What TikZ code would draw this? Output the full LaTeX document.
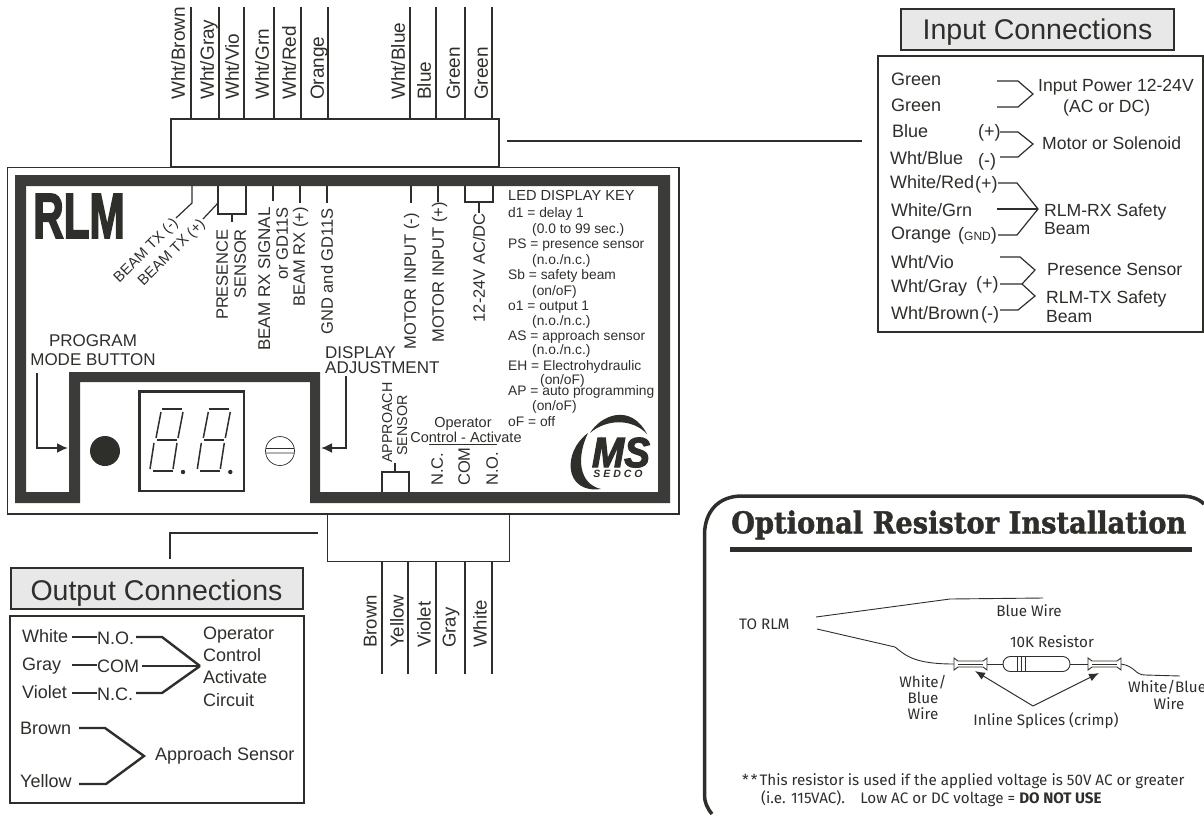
\documentclass[tikz,border=0pt]{standalone}
\usepackage{fontspec}
\usepackage{tikz}
\usetikzlibrary{arrows.meta}
\setmainfont{Liberation Sans}
\newfontfamily\panelfont{Fira Sans}
\newfontfamily\slabfont[FakeBold=1.5]{DejaVu Serif}
\newfontfamily\heavyfont[FakeBold=3]{Liberation Sans}
\newcommand{\fs}[1]{\fontsize{#1}{#1}\selectfont}
\definecolor{ink}{HTML}{2E2E2B}
\definecolor{band}{HTML}{3B3B39}
\definecolor{titlegray}{HTML}{E8E8E8}
\tikzset{
	sz/.style={font=\fs{#1},text height={.72*#1pt},text depth=0pt},
	lbl/.style={inner sep=0pt,text=ink,sz=18},
	wlbl/.style={lbl,anchor=west},
	vlbl/.style={lbl,rotate=90,anchor=west,sz=19},
	pin/.style={lbl,rotate=90,anchor=east,sz=16.5},
	key/.style={wlbl,sz=13.8},
	plbl/.style={lbl,font=\panelfont\fs{15.2},text height=10.6pt},
	wire/.style={draw=ink,line width=1.2pt},
	thin wire/.style={draw=ink,line width=.9pt},
	bus/.style={draw=ink,line width=2.4pt},
	box/.style={draw=ink,line width=2pt,fill=white,inner sep=0pt},
	titlebox/.style={draw=ink,line width=2pt,fill=titlegray,inner sep=0pt,text=ink,sz=28.5},
	arrow/.style={draw=ink,line width=1.8pt,-{Latex[length=11pt,width=10pt]}},
	tiny arrow/.style={draw=ink,line width=1pt,-{Latex[length=10pt,width=8pt]}}
}
\begin{document}
\begin{tikzpicture}[x=1pt,y=-1pt]
	\useasboundingbox (0,0) rectangle (1204,814);
	% top harness
	\node [draw=ink,line width=1.2pt,minimum width=328,minimum height=48,inner sep=0pt] (inbox) at (335,143) {};
	\foreach \i/\x/\lx/\name in {1/191/178/Wht\slash Brown,2/219/207/Wht\slash Gray,3/244/232/Wht\slash Vio,4/274/262/Wht\slash Grn,5/301/289/Wht\slash Red,6/328/317/Orange,7/410/398/Wht\slash Blue,8/436/424/Blue,9/465/453/Green,10/492/481/Green}{
		\coordinate (top\i) at (\x,7);
		\draw [wire] (top\i) -- (top\i |- inbox.north);
		\node [vlbl] (toplbl\i) at (\lx,100) {\name};
	}
	\coordinate (inleft) at (507,141);
	\coordinate (inright) at (862,141);
	\draw [wire] (inleft) -- (inright);
	% main housing
	\draw [draw=ink,line width=1.6pt] (7.5,167.5) rectangle (679,514);
	\fill [band,even odd rule] (15,175) -- (670,175) -- (670,503) -- (310,503) -- (310,382) -- (80,382) -- (80,503) -- (15,503) -- cycle
		(26,186) -- (658,186) -- (658,492) -- (320,492) -- (320,372) -- (69,372) -- (69,492) -- (26,492) -- cycle;
	\node [inner sep=0pt,text=ink,font=\heavyfont\fs{64}\bfseries] (rlm) at (79,215) {\scalebox{.66}[1]{\rule{0pt}{46pt}RLM}};
	% terminals along the top
	\draw [wire] (192,186) -- (192,203) -- (176,218);
	\draw [wire] (218,186) -- (218,203) -- (203,219);
	\node [lbl,sz=14.8,rotate=45,anchor=east] (txminus) at (175,220) {BEAM TX (-)};
	\node [lbl,sz=14.8,rotate=45,anchor=east] (txplus) at (202,221) {BEAM TX (+)};
	\draw [wire] (218,186) -- (218,214) -- (246,214) -- (246,186) (232,214) -- (232,222);
	\node [pin] (pres) at (222,229) {PRESENCE};
	\node [pin] (sens) at (240,229) {SENSOR};
	\draw [wire] (273,186) -- (273,201);
	\node [pin,sz=17] (rxsig) at (264,207) {BEAM RX SIGNAL};
	\node [pin] (gd) at (282,207) {or GD11S};
	\draw [wire] (300,186) -- (300,203);
	\node [pin] (rxplus) at (299,207) {BEAM RX (+)};
	\draw [wire] (327,186) -- (327,203);
	\node [pin] (gnd) at (327,208) {GND and GD11S};
	\draw [wire] (411,186) -- (411,203);
	\node [pin] (motminus) at (410,213) {MOTOR INPUT (-)};
	\draw [wire] (438,186) -- (438,202);
	\node [pin] (motplus) at (438,202) {MOTOR INPUT (+)};
	\draw [wire] (465,186) -- (465,202) -- (493,202) -- (493,186) (479,202) -- (479,213);
	\node [pin] (power) at (479,213) {12-24V AC/DC};
	% buttons
	\node [lbl,sz=17] (prog) at (93,340) {PROGRAM};
	\node [lbl,sz=17] (mode) at (93,359) {MODE BUTTON};
	\node [lbl,sz=17,anchor=west] (disp) at (325,352) {DISPLAY};
	\node [lbl,sz=17,anchor=west] (adj) at (325,367) {ADJUSTMENT};
	\coordinate (progtop) at (37,373);
	\coordinate (progtip) at (68,448);
	\coordinate (adjtop) at (346,376);
	\coordinate (adjtip) at (321,448);
	\draw [arrow] (progtop) |- (progtip);
	\draw [arrow] (adjtop) |- (adjtip);
	\fill [ink] (105,451) circle (15);
	% display
	\draw [draw=ink,line width=2.8pt] (139.5,391.5) rectangle (244,491);
	\foreach \d in {0,47.3}{
		\begin{scope}[xshift=\d,line width=1.5pt,draw=ink]
			\draw [ink] (162,409) -- (182,409) (157,440) -- (177,440) (153,471) -- (173,471);
			\draw [ink] (161,412) -- (156,438) (154,443) -- (150,469);
			\draw [ink] (183,412) -- (178,438) (177,443) -- (173,469);
			\fill [ink] (183,472) circle (2.2);
		\end{scope}
	}
	\draw [draw=ink,line width=.7pt] (280,451) circle (14.5) (265.5,448.5) -- (294.5,448.5) (265.5,453) -- (294.5,453);
	% terminals along the bottom
	\node [pin,sz=14.3,anchor=west] (appr) at (387,463) {APPROACH};
	\node [pin,sz=14.3,anchor=west] (asens) at (402,456) {SENSOR};
	\draw [wire] (382,492) -- (382,472) -- (409,472) -- (409,492) (395,472) -- (395,463);
	\node [lbl,sz=14.5] (oper) at (463,422) {Operator};
	\node [lbl,sz=14.5] (ctrl) at (466,437) {Control - Activate};
	\draw [draw=ink,line width=.6pt] (429,444) -- (497,444);
	\node [pin,anchor=west] (nc) at (437,486) {N.C.};
	\node [pin,anchor=west] (com) at (464,486) {COM};
	\node [pin,anchor=west] (no) at (492,486) {N.O.};
	% led key
	\node [key,sz=14.6] (key0) at (508,195) {LED DISPLAY KEY};
	\foreach \i/\x/\y/\txt in {1/508/213/d1 = delay 1,2/532/229/(0.0 to 99 sec.),3/508/244/PS = presence sensor,4/532/260/{(n.o./n.c.)},5/508/275/Sb = safety beam,6/532/291/{(on/oF)},7/508/306/o1 = output 1,8/532/321/{(n.o./n.c.)},9/508/336/AS = approach sensor,10/532/350/{(n.o./n.c.)},11/508/366/EH = Electrohydraulic,12/540/380/{(on/oF)},13/508/391/AP = auto programming,14/532/406/{(on/oF)},15/508/422/oF = off}{
		\node [key] (key\i) at (\x,\y) {\txt};
	}
	% logo
	\fill [ink] (590,433) .. controls (600,416) and (630,402) .. (647,434) .. controls (632,418) and (606,419) .. (590,433) -- cycle;
	\fill [ink] (588,433) .. controls (562,452) and (564,494) .. (601,489) .. controls (579,484) and (576,458) .. (588,433) -- cycle;
	\node [inner sep=0pt,text=ink,font=\heavyfont\fs{42}\bfseries\itshape,text height=30pt,text depth=0pt] (ms) at (621,452) {\scalebox{.92}[1]{MS}};
	\node [inner sep=0pt,text=ink,font=\fs{10.5}\bfseries\itshape,text height=7.5pt,text depth=0pt] (sedco) at (618,474) {S\kern3ptE\kern3ptD\kern3ptC\kern3ptO};
	% bottom harness
	\node [draw=ink,line width=1pt,fill=white,minimum width=182,minimum height=47,inner sep=0pt] (outbox) at (418,538) {};
	\foreach \i/\x/\lx/\name in {1/382/370/Brown,2/408/397/Yellow,3/436/424/Violet,4/465/449/Gray,5/492/480/White}{
		\coordinate (bot\i) at (\x,674);
		\draw [wire] (bot\i |- outbox.south) -- (bot\i);
		\node [vlbl,sz=18.6] (botlbl\i) at (\lx,648) {\name};
	}
	\coordinate (outright) at (318,533);
	\coordinate (outdown) at (170,559);
	\draw [wire] (outright) -| (outdown);
	% output connections
	\node [titlebox,minimum width=292,minimum height=41] (outtitle) at (156.5,588) {\raisebox{-2pt}{Output Connections}};
	\node [box,minimum width=294,minimum height=187] (outpanel) at (157,709.5) {};
	\foreach \i/\y/\col/\pinx/\pn in {1/636/White/97/N.O.,2/664/Gray/97/COM,3/692/Violet/97/N.C.}{
		\node [wlbl] (outcol\i) at (22,\y) {\col};
		\node [wlbl] (outpin\i) at (\pinx,\y+2) {\pn};
		\coordinate (outa\i) at (72,\y+1);
		\draw [bus] (outa\i) -- (outpin\i.west |- outa\i);
	}
	\coordinate (optip) at (200,666);
	\draw [bus] (136,637) -- (162,637) -- (optip);
	\draw [bus] (142,666) -- (optip);
	\draw [bus] (136,693) -- (162,693) -- (optip);
	\foreach \i/\y/\txt in {1/633/Operator,2/655/Control,3/677/Activate,4/700/Circuit}{
		\node [wlbl] (optxt\i) at (203,\y) {\txt};
	}
	\node [wlbl] (brn) at (20,728) {Brown};
	\node [wlbl] (yel) at (20,781) {Yellow};
	\draw [bus] (79,728) -- (105,728) -- (144,756) -- (106,784) -- (79,784);
	\node [wlbl] (appsens) at (155,754) {Approach Sensor};
	% input connections
	\node [titlebox,minimum width=273,minimum height=41] (intitle) at (1037.5,29) {Input Connections};
	\node [box,minimum width=325,minimum height=276] (inpanel) at (1040.5,194) {};
	\foreach \i/\x/\y/\txt in {1/891/79/Green,2/891/105/Green,3/892/131/Blue,4/890/158/Wht\slash Blue,5/890/182/White\slash Red,6/891/210/White\slash Grn,7/891/233/Orange,8/891/262/Wht\slash Vio,9/891/286/Wht\slash Gray,10/891/313/Wht\slash Brown}{
		\node [wlbl] (incol\i) at (\x,\y) {\txt};
	}
	\node [wlbl] (sign1) at (978,131) {(+)};
	\node [wlbl] (sign2) at (978,160) {(-)};
	\node [wlbl] (sign3) at (975,183) {(+)};
	\node [wlbl] (sign4) at (958,234) {(\fs{12}GND\fs{18})};
	\node [wlbl] (sign5) at (976,283) {(+)};
	\node [wlbl] (sign6) at (981,313) {(-)};
	\draw [wire] (997,81) -- (1018,81) -- (1033,94) -- (1018,107) -- (997,107);
	\draw [wire] (1000,132) -- (1018,132) -- (1033,144) -- (1018,157) -- (1000,157);
	\draw [wire] (998,183) -- (1017,183) -- (1038,209) -- (1017,235) -- (998,235);
	\draw [wire] (997,209) -- (1038,209);
	\draw [wire] (1000,257) -- (1020,257) -- (1035,270) -- (1022,284);
	\draw [wire] (1000,284) -- (1022,284) -- (1035,296) -- (1018,310) -- (1000,310);
	\foreach \i/\x/\y/\txt in {1/1038/85/Input Power 12-24V,2/1063/106/(AC or DC),3/1042/143/Motor or Solenoid,4/1044/210/RLM-RX Safety,5/1044/228/Beam,6/1047/269/Presence Sensor,7/1046/297/RLM-TX Safety,8/1046/316/Beam}{
		\node [wlbl,sz=17.6] (indesc\i) at (\x,\y) {\txt};
	}
	% optional resistor
	\draw [draw=ink,line width=3.5pt] (712,814) .. controls (707,808) and (704.5,802) .. (704.5,795) -- (704.5,535) .. controls (704.5,512) and (718,496) .. (742,496) -- (1180,496) .. controls (1190,496) and (1198,498) .. (1204,504);
	\node [inner sep=0pt,text=ink,font=\slabfont\fs{30}\bfseries,anchor=west] (restitle) at (731,525) {\scalebox{.91}[1]{Optional Resistor Installation}};
	\draw [draw=ink,line width=5pt] (730,549) -- (1192,549);
	\node [plbl,anchor=west] (torlm) at (739,624) {TO RLM};
	\node [plbl] (bluewire) at (1029,611) {Blue Wire};
	\node [plbl] (resval) at (1052,642) {10K Resistor};
	\node [plbl] (splices) at (1046,720) {Inline Splices (crimp)};
	\node [plbl] (wb1) at (923,682) {White/};
	\node [plbl] (wb2) at (923,698) {Blue};
	\node [plbl] (wb3) at (923,714) {Wire};
	\node [plbl] (wb4) at (1167,687) {White/Blue};
	\node [plbl] (wb5) at (1169,704) {Wire};
	\coordinate (rlm1) at (816,617);
	\coordinate (rlm2) at (817,629);
	\coordinate (blueend) at (1043,598);
	\coordinate (splice1) at (954,664);
	\coordinate (splice2) at (1121,664);
	\coordinate (whiteend) at (1180,676);
	\draw [thin wire] (rlm1) -- (950,599) -- (blueend);
	\draw [thin wire] (rlm2) -- (895,647) .. controls (906,656) and (915,664) .. (splice1);
	\draw [thin wire] (splice2) .. controls (1135,666) and (1135,675) .. (1145,675) -- (whiteend);
	\foreach \x in {954,1088}{
		\draw [thin wire,fill=white] (\x,658) -- (\x+4,661) -- (\x+29,661) -- (\x+33,658) -- (\x+33,670) -- (\x+29,667) -- (\x+4,667) -- (\x,670) -- cycle;
		\draw [draw=ink,line width=.6pt] (\x+4,664) -- (\x+29,664);
	}
	\draw [thin wire,rounded corners=7.4pt] (1003,656.5) rectangle (1070,671.5);
	\coordinate (reswest) at (1003,664);
	\coordinate (reseast) at (1070,664);
	\draw [thin wire] (987,664) -- (reswest);
	\draw [thin wire] (reseast) -- (1088,664);
	\foreach \x in {1017,1021,1025}{
		\draw [draw=ink,line width=1pt] (\x,656.5) -- (\x,671.5);
	}
	\coordinate (apex) at (1033,706);
	\coordinate (tipleft) at (975,671);
	\coordinate (tipright) at (1099,673);
	\draw [tiny arrow] (apex) -- (tipleft);
	\draw [tiny arrow] (apex) -- (tipright);
	\node [plbl,anchor=west] (note1) at (742,780) {*\kern2pt*\kern2pt This resistor is used if the applied voltage is 50V AC or greater};
	\node [plbl,anchor=west] (note2) at (761,798) {(i.e. 115VAC).\quad Low AC or DC voltage = \textbf{DO NOT USE}};
\end{tikzpicture}
\end{document}
